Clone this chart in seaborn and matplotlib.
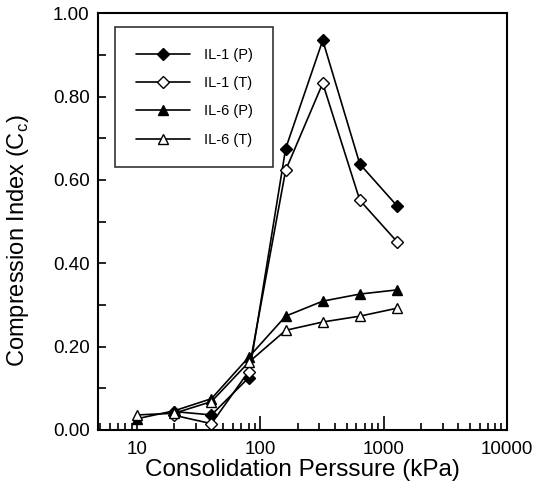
import numpy as np
import pandas as pd
import matplotlib
matplotlib.use('Agg')
import matplotlib.pyplot as plt
import seaborn as sns
from matplotlib.ticker import FormatStrFormatter, LogLocator, MultipleLocator, NullFormatter

# consolidation pressure (kPa) and compression index
p_il1 = [20, 40, 80, 160, 320, 640, 1280]
il1_p = [0.044, 0.036, 0.125, 0.675, 0.935, 0.638, 0.538]
il1_t = [0.035, 0.015, 0.140, 0.623, 0.832, 0.551, 0.452]
p_il6 = [10, 20, 40, 80, 160, 320, 640, 1280]
il6_p = [0.027, 0.046, 0.075, 0.174, 0.273, 0.309, 0.326, 0.336]
il6_t = [0.036, 0.040, 0.068, 0.162, 0.239, 0.259, 0.273, 0.292]

series = [
    ('IL-1 (P)', p_il1, il1_p, 'D', 'black'),
    ('IL-1 (T)', p_il1, il1_t, 'D', 'white'),
    ('IL-6 (P)', p_il6, il6_p, '^', 'black'),
    ('IL-6 (T)', p_il6, il6_t, '^', 'white'),
]

sns.set_style('ticks')
plt.rcParams['font.family'] = ['Liberation Sans', 'DejaVu Sans']
plt.rcParams['text.color'] = 'black'
plt.rcParams['axes.labelcolor'] = 'black'

fig = plt.figure(figsize=(5.37, 4.88), dpi=100)
ax = fig.add_axes([0.1825, 0.119, 0.7615, 0.854])

for name, x, y, m, fc in series:
    df = pd.DataFrame({'p': x, 'cc': y})
    sns.lineplot(data=df, x='p', y='cc', ax=ax, color='black', lw=1.2,
                 marker=m, markersize=6.5 if m == 'D' else 7.5, markerfacecolor=fc,
                 markeredgecolor='black', markeredgewidth=1.0, label=name)

ax.set_xscale('log')
ax.set_xlim(4.8, 10000)
ax.set_ylim(0, 1.0)
ax.xaxis.set_minor_locator(LogLocator(base=10, subs=np.arange(2, 10), numticks=20))
ax.xaxis.set_minor_formatter(NullFormatter())
ax.set_xticks([10, 100, 1000, 10000])
ax.set_xticklabels(['10', '100', '1000', '10000'])
ax.yaxis.set_major_locator(MultipleLocator(0.2))
ax.yaxis.set_minor_locator(MultipleLocator(0.1))
ax.yaxis.set_major_formatter(FormatStrFormatter('%.2f'))

ax.tick_params(axis='both', which='both', direction='in', labelsize=13.5, width=1.2, colors='black')
ax.tick_params(axis='x', which='major', length=10, pad=8)
ax.tick_params(axis='x', which='minor', length=5)
ax.tick_params(axis='y', which='both', length=6, pad=6)
for s in ax.spines.values():
    s.set_linewidth(1.5)
    s.set_color('black')

ax.set_xlabel('Consolidation Perssure (kPa)', fontsize=17.5, labelpad=1)
ax.set_ylabel('Compression Index (C$_\\mathregular{c}$)', fontsize=17)
ax.yaxis.set_label_coords(-0.163, 0.455)

leg = ax.legend(loc='upper left', bbox_to_anchor=(0.042, 0.966), fontsize=10.5,
                frameon=True, fancybox=False, edgecolor='black', handlelength=3.7,
                labelspacing=0.98, borderpad=1.4, handletextpad=1.0, borderaxespad=0)
leg.get_frame().set_linewidth(1.2)

fig.savefig('out.png', dpi=100)
